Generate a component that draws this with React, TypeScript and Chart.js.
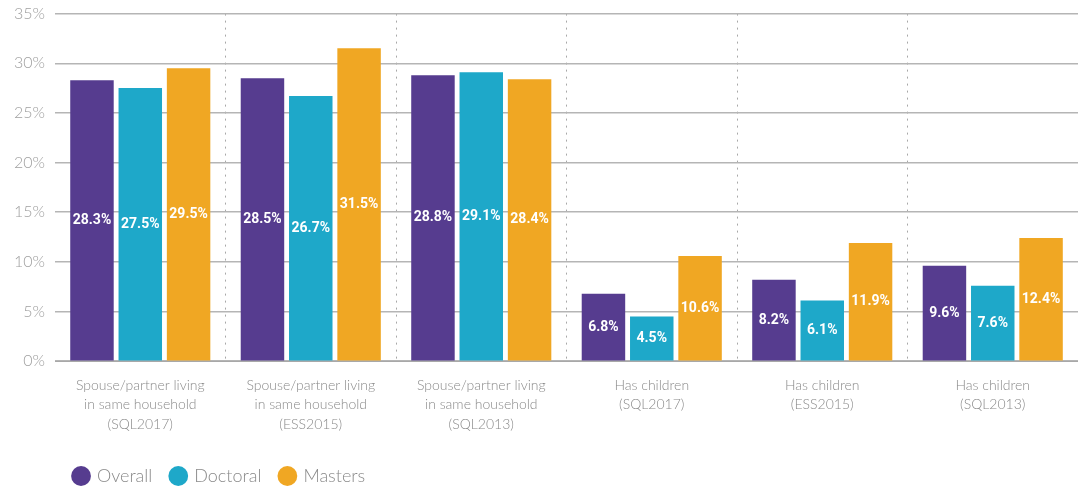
import React, { useEffect, useRef } from "react";
import { Chart, registerables } from "chart.js";

Chart.register(...registerables);

const categories: string[][] = [
  ["Spouse/partner living", "in same household", "(SQL2017)"],
  ["Spouse/partner living", "in same household", "(ESS2015)"],
  ["Spouse/partner living", "in same household", "(SQL2013)"],
  ["Has children", "(SQL2017)"],
  ["Has children", "(ESS2015)"],
  ["Has children", "(SQL2013)"],
];
const overall = [28.3, 28.5, 28.8, 6.8, 8.2, 9.6];
const doctoral = [27.5, 26.7, 29.1, 4.5, 6.1, 7.6];
const masters = [29.5, 31.5, 28.4, 10.6, 11.9, 12.4];
const seriesNames = ["Overall", "Doctoral", "Masters"];
const seriesColors = ["#563C8F", "#1EA8C9", "#F0A723"];

const valueLabels = {
  id: "valueLabels",
  afterDatasetsDraw(chart: any) {
    const ctx = chart.ctx;
    ctx.save();
    ctx.fillStyle = "#ffffff";
    ctx.font = "bold 14px Roboto";
    ctx.textAlign = "center";
    ctx.textBaseline = "middle";
    chart.data.datasets.forEach((ds: any, di: number) => {
      const meta = chart.getDatasetMeta(di);
      meta.data.forEach((bar: any, i: number) => {
        const v = ds.data[i];
        ctx.fillText(v.toFixed(1) + "%", bar.x, (bar.y + bar.base) / 2);
      });
    });
    ctx.restore();
  },
};

export default function App() {
  const ref = useRef<HTMLCanvasElement | null>(null);
  useEffect(() => {
    document.body.style.margin = "0";
    const c = new Chart(ref.current!, {
      type: "bar",
      data: {
        labels: categories,
        datasets: [overall, doctoral, masters].map((d, i) => ({
          label: seriesNames[i],
          data: d,
          backgroundColor: seriesColors[i],
          borderWidth: 0,
          categoryPercentage: 0.85,
          barPercentage: 0.9,
        })),
      },
      options: {
        animation: false,
        responsive: false,
        layout: { padding: { left: 4, top: 0, right: 0, bottom: -8 } },
        plugins: {
          tooltip: { enabled: false },
          legend: {
            position: "bottom",
            align: "start",
            fullSize: false,
            labels: {
              usePointStyle: true,
              pointStyle: "circle",
              boxWidth: 14,
              boxHeight: 14,
              padding: 19,
              color: "#8a8a8a",
              font: { family: "Lato", size: 18, weight: "300" },
            },
          },
        },
        scales: {
          x: {
            grid: {
              offset: true,
              drawTicks: false,
              color: (ctx: any) =>
                ctx.index === 0 || ctx.index >= categories.length ? "rgba(0,0,0,0)" : "#a8a8a8",
              lineWidth: 1,
            },
            border: { display: true, color: "#a8a8a8", dash: [2, 5] },
            ticks: {
              color: "#8a8a8a",
              padding: 14,
              font: { family: "Lato", size: 14, weight: "300", lineHeight: 1.4 },
              maxRotation: 0,
            },
          },
          y: {
            min: 0,
            max: 35,
            ticks: {
              stepSize: 5,
              color: "#a0a0a0",
              padding: 10,
              font: { family: "Lato", size: 16, weight: "300", lineHeight: 0.45 },
              callback: (v: any) => v + "%",
            },
            grid: { color: "#b5b5b5", lineWidth: 1.5, drawTicks: false },
            border: { display: false },
          },
        },
      },
      plugins: [valueLabels],
    });
    return () => c.destroy();
  }, []);
  return <canvas ref={ref} width={1078} height={487} />;
}
